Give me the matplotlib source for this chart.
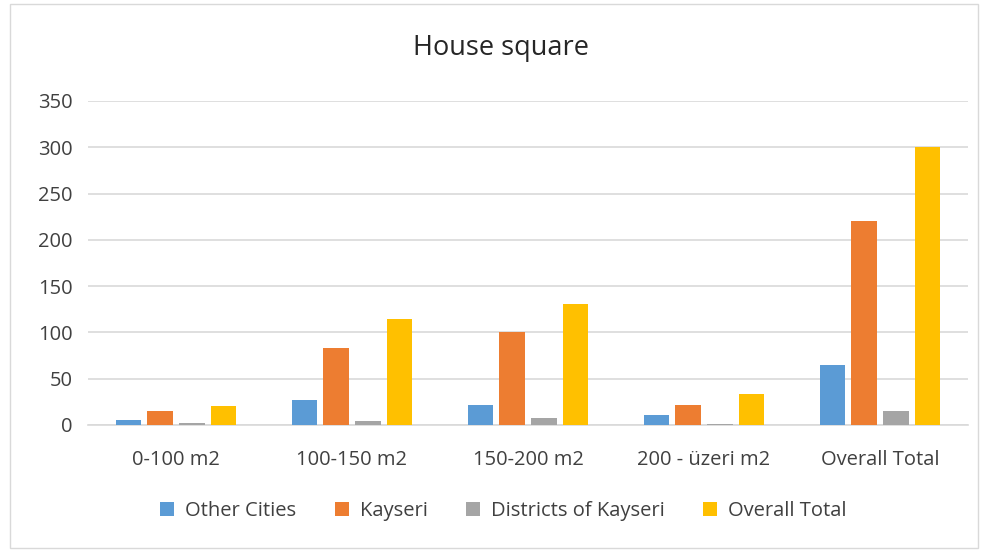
import matplotlib
matplotlib.use("Agg")
import matplotlib.pyplot as plt
import numpy as np

categories = ["0-100 m2", "100-150 m2", "150-200 m2", "200 - üzeri m2", "Overall Total"]
other_cities = [5, 27, 22, 11, 65]
kayseri = [15, 83, 100, 22, 220]
districts = [2, 4, 8, 1, 15]
overall = [20, 115, 131, 34, 300]

series_names = ["Other Cities", "Kayseri", "Districts of Kayseri", "Overall Total"]
colors = ["#5B9BD5", "#ED7D31", "#A5A5A5", "#FFC000"]

plt.rcParams["font.family"] = ["Open Sans", "DejaVu Sans"]

fig = plt.figure(figsize=(9.87, 5.52), dpi=100)
ax = fig.add_axes([88 / 987, 1 - 425 / 552, 880 / 987, 324 / 552])

x = np.arange(len(categories))
pitch = 0.18
width = 0.145
for i, (vals, name, c) in enumerate(zip([other_cities, kayseri, districts, overall], series_names, colors)):
    ax.bar(x + (i - 1.5) * pitch, vals, width, color=c, label=name, zorder=3)

ax.set_xlim(-0.5, len(categories) - 0.5)
ax.set_ylim(0, 350)
ax.set_yticks(range(0, 351, 50))
ax.grid(axis="y", color="#D9D9D9", linewidth=1.2, zorder=0)
for s in ["top", "right", "left"]:
    ax.spines[s].set_visible(False)
ax.spines["bottom"].set_color("#D9D9D9")
ax.spines["bottom"].set_linewidth(1.2)
ax.tick_params(length=0, labelsize=14.5, colors="#404040")
ax.tick_params(axis="y", pad=11)
ax.tick_params(axis="x", pad=18)
ax.set_xticks(x)
ax.set_xticklabels(categories)

fig.text(0.508, 1 - 48 / 552, "House square", ha="center", va="center", fontsize=19.5, color="#262626")

fig.legend(loc="center", bbox_to_anchor=(0.51, 1 - 511 / 552), ncol=4, frameon=False,
           fontsize=14.5, handlelength=0.7, handleheight=0.7, columnspacing=1.9,
           handletextpad=0.55, labelcolor="#404040")

border = plt.Rectangle((10 / 987, 4 / 552), 968 / 987, 544 / 552, transform=fig.transFigure,
                       fill=False, edgecolor="#D9D9D9", linewidth=1)
fig.patches.append(border)

fig.savefig("out.png", dpi=100)
